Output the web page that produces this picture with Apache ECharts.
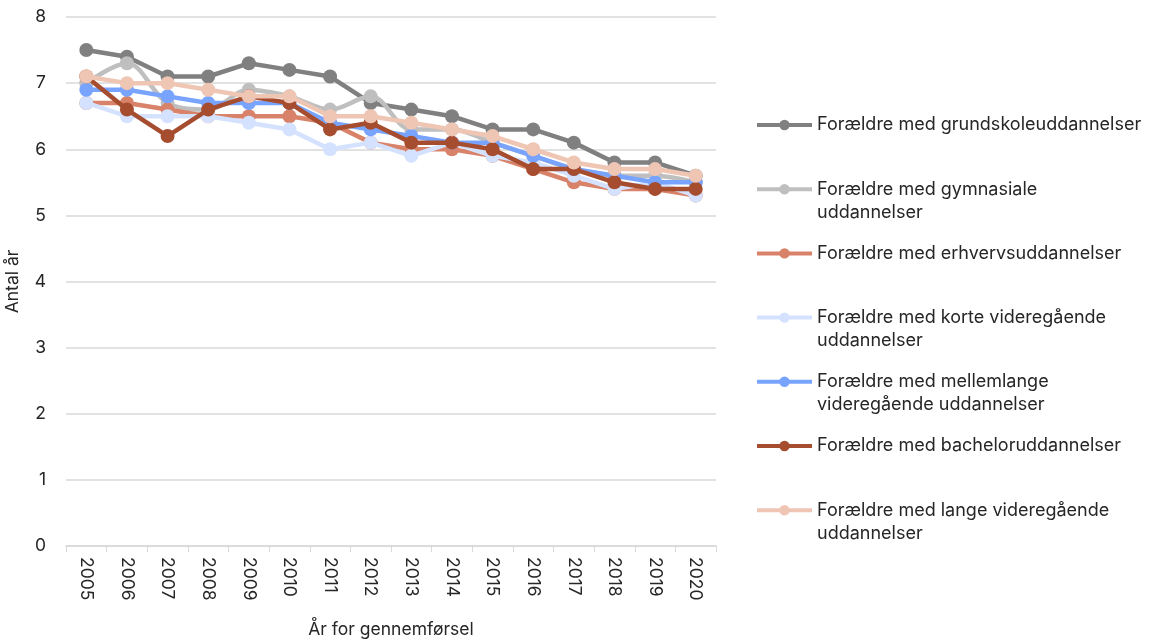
<!DOCTYPE html>
<html>
<head>
<meta charset="utf-8">
<script src="https://cdn.jsdelivr.net/npm/echarts@6/dist/echarts.min.js"></script>
<style>html,body{margin:0;padding:0;background:#fff}#c{width:1153px;height:643px}</style>
</head>
<body>
<div id="c"></div>
<script>
const years = ['2005','2006','2007','2008','2009','2010','2011','2012','2013','2014','2015','2016','2017','2018','2019','2020'];
const grundskole   = [7.5,7.4,7.1,7.1,7.3,7.2,7.1,6.7,6.6,6.5,6.3,6.3,6.1,5.8,5.8,5.6];
const gymnasiale   = [7.0,7.3,6.7,6.6,6.9,6.8,6.6,6.8,6.3,6.3,6.1,5.9,5.7,5.6,5.6,5.5];
const erhverv      = [6.7,6.7,6.6,6.5,6.5,6.5,6.4,6.1,6.0,6.0,5.9,5.7,5.5,5.4,5.4,5.3];
const korte        = [6.7,6.5,6.5,6.5,6.4,6.3,6.0,6.1,5.9,6.1,5.9,5.8,5.6,5.4,5.5,5.3];
const mellemlange  = [6.9,6.9,6.8,6.7,6.7,6.7,6.4,6.3,6.2,6.1,6.1,5.9,5.7,5.6,5.5,5.5];
const bachelor     = [7.1,6.6,6.2,6.6,6.8,6.7,6.3,6.4,6.1,6.1,6.0,5.7,5.7,5.5,5.4,5.4];
const lange        = [7.1,7.0,7.0,6.9,6.8,6.8,6.5,6.5,6.4,6.3,6.2,6.0,5.8,5.7,5.7,5.6];
const yTicks = [0,1,2,3,4,5,6,7,8];

const names = [
  'Forældre med grundskoleuddannelser',
  'Forældre med gymnasiale uddannelser',
  'Forældre med erhvervsuddannelser',
  'Forældre med korte videregående uddannelser',
  'Forældre med mellemlange videregående uddannelser',
  'Forældre med bacheloruddannelser',
  'Forældre med lange videregående uddannelser'
];
const firstLines = [
  'Forældre med grundskoleuddannelser',
  'Forældre med gymnasiale',
  'Forældre med erhvervsuddannelser',
  'Forældre med korte videregående',
  'Forældre med mellemlange',
  'Forældre med bacheloruddannelser',
  'Forældre med lange videregående'
];
const secondLines = ['', 'uddannelser', '', 'uddannelser', 'videregående uddannelser', '', 'uddannelser'];
const colors = ['#808080','#bfbfbf','#d9826a','#d5e2ff','#78a4ff','#a64d2f','#efc5b4'];
const dataSets = [grundskole, gymnasiale, erhverv, korte, mellemlange, bachelor, lange];
const smoothFlags = [false, true, false, false, false, false, false];

const FONT = 'Inter';
const FS = 17.5, LFS = 18;
const legendTop = 113, legendStep = 64.2, LH = 24;

const chart = echarts.init(document.getElementById('c'), null, {renderer:'canvas'});
chart.setOption({
  animation: false,
  backgroundColor: '#fff',
  textStyle: {fontFamily: FONT},
  grid: {left: 66, right: 437, top: 17, bottom: 97, containLabel: false, outerBoundsMode: 'none'},
  legend: {
    orient: 'vertical',
    left: 755,
    top: legendTop,
    padding: 0,
    itemGap: legendStep - LH,
    itemWidth: 55,
    itemHeight: 13,
    data: names,
    lineStyle: {width: 4},
    formatter: function(n){ return firstLines[names.indexOf(n)]; },
    textStyle: {fontFamily: FONT, fontSize: LFS, color: '#262626', lineHeight: LH, padding:[0,0,0,0]}
  },
  graphic: secondLines.map(function(t, i){
    return t ? {type:'text', left: 817, top: legendTop + i*legendStep + LH + 2,
      style:{text: t, font: LFS + 'px ' + FONT, fill: '#262626'}} : null;
  }).filter(Boolean),
  xAxis: {
    type: 'category',
    data: years,
    boundaryGap: true,
    name: 'År for gennemførsel',
    nameLocation: 'middle',
    nameGap: 75,
    nameTextStyle: {fontSize: FS, color: '#262626', fontFamily: FONT},
    axisLine: {show: true, lineStyle: {color: '#d9d9d9', width: 1.5}},
    axisTick: {show: true, alignWithLabel: false, length: 6, lineStyle: {color: '#d9d9d9', width: 1}},
    axisLabel: {rotate: -90, fontSize: FS, color: '#262626', margin: 11, fontFamily: FONT}
  },
  yAxis: {
    type: 'value',
    min: yTicks[0], max: yTicks[yTicks.length-1], interval: 1,
    name: 'Antal år',
    nameLocation: 'middle',
    nameGap: 44,
    nameTextStyle: {fontSize: FS, color: '#262626', fontFamily: FONT},
    axisLine: {show: false},
    axisTick: {show: false},
    axisLabel: {fontSize: FS, color: '#262626', margin: 20, fontFamily: FONT},
    splitLine: {lineStyle: {color: '#d9d9d9', width: 1.5}}
  },
  series: names.map(function(n, i){
    return {
      name: n, type: 'line', data: dataSets[i], smooth: smoothFlags[i] ? 0.35 : false,
      symbol: 'circle', symbolSize: 14,
      color: colors[i],
      lineStyle: {width: 4.5, color: colors[i]},
      itemStyle: {color: colors[i]},
      z: 2 + i
    };
  })
});
</script>
</body>
</html>
